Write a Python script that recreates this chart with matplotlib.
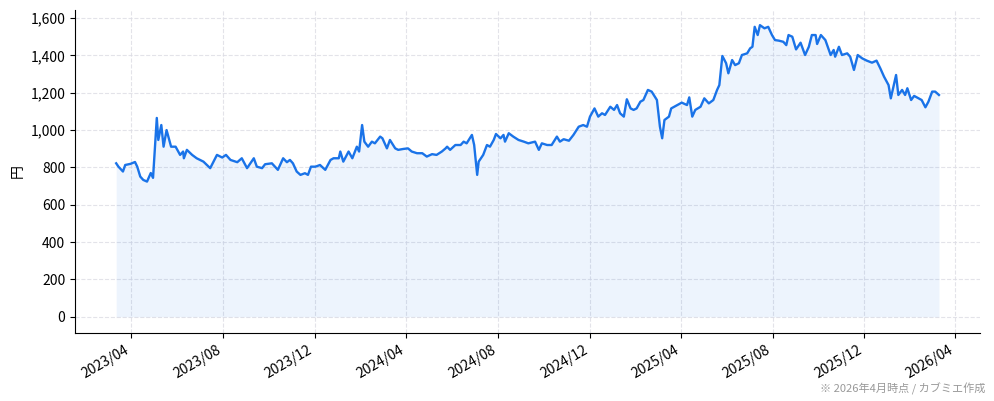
import matplotlib
matplotlib.use("Agg")
import matplotlib.pyplot as plt
import matplotlib.dates as mdates
from matplotlib.ticker import FuncFormatter, MultipleLocator
import pandas as pd

plt.rcParams['font.family'] = ['Noto Sans CJK JP', 'DejaVu Sans']

dates = [
    "2023-03-12", "2023-03-15", "2023-03-21", "2023-03-24", "2023-03-31", "2023-04-06",
    "2023-04-09", "2023-04-13", "2023-04-17", "2023-04-22", "2023-04-27", "2023-04-30",
    "2023-05-05", "2023-05-07", "2023-05-11", "2023-05-14", "2023-05-18", "2023-05-24",
    "2023-05-30", "2023-06-05", "2023-06-09", "2023-06-10", "2023-06-14", "2023-06-21",
    "2023-06-27", "2023-07-06", "2023-07-15", "2023-07-24", "2023-07-31", "2023-08-05",
    "2023-08-11", "2023-08-20", "2023-08-26", "2023-09-02", "2023-09-11", "2023-09-15",
    "2023-09-22", "2023-09-26", "2023-10-05", "2023-10-13", "2023-10-20", "2023-10-25",
    "2023-10-29", "2023-11-02", "2023-11-07", "2023-11-12", "2023-11-18", "2023-11-22",
    "2023-11-26", "2023-12-02", "2023-12-08", "2023-12-15", "2023-12-22", "2023-12-26",
    "2024-01-02", "2024-01-04", "2024-01-08", "2024-01-15", "2024-01-20", "2024-01-26",
    "2024-01-29", "2024-02-02", "2024-02-05", "2024-02-10", "2024-02-15", "2024-02-19",
    "2024-02-26", "2024-02-29", "2024-03-06", "2024-03-10", "2024-03-17", "2024-03-21",
    "2024-03-28", "2024-04-03", "2024-04-08", "2024-04-15", "2024-04-22", "2024-04-28",
    "2024-05-05", "2024-05-11", "2024-05-18", "2024-05-23", "2024-05-25", "2024-05-29",
    "2024-06-05", "2024-06-12", "2024-06-16", "2024-06-20", "2024-06-27", "2024-06-30",
    "2024-07-04", "2024-07-06", "2024-07-12", "2024-07-17", "2024-07-21", "2024-07-26",
    "2024-07-29", "2024-08-04", "2024-08-08", "2024-08-10", "2024-08-15", "2024-08-21",
    "2024-08-28", "2024-09-04", "2024-09-10", "2024-09-19", "2024-09-24", "2024-09-28",
    "2024-10-05", "2024-10-11", "2024-10-18", "2024-10-22", "2024-10-27", "2024-11-03",
    "2024-11-09", "2024-11-16", "2024-11-22", "2024-11-27", "2024-12-01", "2024-12-07",
    "2024-12-12", "2024-12-17", "2024-12-21", "2024-12-28", "2025-01-02", "2025-01-06",
    "2025-01-10", "2025-01-15", "2025-01-19", "2025-01-24", "2025-01-28", "2025-02-01",
    "2025-02-06", "2025-02-10", "2025-02-16", "2025-02-21", "2025-02-28", "2025-03-04",
    "2025-03-07", "2025-03-10", "2025-03-16", "2025-03-19", "2025-03-27", "2025-04-02",
    "2025-04-09", "2025-04-12", "2025-04-16", "2025-04-20", "2025-04-27", "2025-05-02",
    "2025-05-08", "2025-05-14", "2025-05-19", "2025-05-22", "2025-05-26", "2025-05-31",
    "2025-06-03", "2025-06-08", "2025-06-12", "2025-06-17", "2025-06-21", "2025-06-28",
    "2025-07-02", "2025-07-05", "2025-07-08", "2025-07-12", "2025-07-15", "2025-07-21",
    "2025-07-26", "2025-07-31", "2025-08-04", "2025-08-09", "2025-08-15", "2025-08-19",
    "2025-08-22", "2025-08-27", "2025-09-01", "2025-09-07", "2025-09-13", "2025-09-18",
    "2025-09-22", "2025-09-27", "2025-09-29", "2025-10-04", "2025-10-10", "2025-10-17",
    "2025-10-21", "2025-10-23", "2025-10-28", "2025-11-01", "2025-11-08", "2025-11-12",
    "2025-11-17", "2025-11-22", "2025-11-28", "2025-12-04", "2025-12-11", "2025-12-17",
    "2025-12-22", "2025-12-27", "2026-01-02", "2026-01-05", "2026-01-09", "2026-01-12",
    "2026-01-15", "2026-01-20", "2026-01-24", "2026-01-27", "2026-02-01", "2026-02-05",
    "2026-02-11", "2026-02-15", "2026-02-20", "2026-02-24", "2026-03-01", "2026-03-05",
    "2026-03-10",
]

prices = [
    822, 804, 778, 813, 819, 829,
    804, 751, 733, 724, 770, 744,
    1065, 947, 1027, 911, 1000, 911,
    911, 867, 885, 849, 894, 867,
    849, 831, 796, 867, 853, 867,
    840, 828, 849, 796, 849, 804,
    796, 817, 822, 787, 849, 828,
    840, 822, 778, 760, 769, 760,
    804, 804, 813, 787, 840, 849,
    849, 885, 831, 885, 849, 911,
    885, 1027, 938, 911, 938, 929,
    965, 956, 902, 947, 902, 894,
    899, 902, 885, 876, 876, 858,
    871, 867, 885, 902, 911, 894,
    920, 920, 938, 929, 974, 920,
    760, 831, 867, 920, 911, 947,
    979, 956, 974, 938, 983, 965,
    947, 938, 929, 938, 894, 929,
    920, 920, 965, 938, 951, 943,
    974, 1018, 1027, 1018, 1072, 1116,
    1072, 1090, 1081, 1125, 1108, 1134,
    1090, 1072, 1165, 1116, 1108, 1116,
    1152, 1161, 1215, 1206, 1161, 1018,
    956, 1054, 1072, 1116, 1134, 1147,
    1134, 1175, 1072, 1108, 1125, 1170,
    1143, 1161, 1215, 1241, 1397, 1358,
    1304, 1375, 1348, 1358, 1402, 1411,
    1438, 1446, 1553, 1509, 1562, 1545,
    1553, 1509, 1482, 1479, 1473, 1455,
    1509, 1500, 1432, 1468, 1402, 1446,
    1509, 1509, 1461, 1509, 1482, 1402,
    1429, 1393, 1446, 1402, 1411, 1393,
    1322, 1402, 1384, 1372, 1361, 1372,
    1331, 1286, 1241, 1170, 1241, 1295,
    1188, 1215, 1188, 1224, 1161, 1183,
    1170, 1161, 1122, 1152, 1206, 1206,
    1188,
]

dt = pd.to_datetime(dates)

fig, ax = plt.subplots(figsize=(9.94, 4.01), dpi=100)
fig.subplots_adjust(left=0.0755, right=0.986, top=0.975, bottom=0.170)

line_color = "#1a73e8"
ax.fill_between(dt, prices, 0, color=line_color, alpha=0.08, linewidth=0)
ax.plot(dt, prices, color=line_color, linewidth=1.7)

ax.set_ylim(-86, 1643)
ax.yaxis.set_major_locator(MultipleLocator(200))
ax.yaxis.set_major_formatter(FuncFormatter(lambda v, p: f"{int(v):,}"))
ax.set_ylabel("円", fontsize=10)

ax.xaxis.set_major_locator(mdates.MonthLocator(bymonth=[4, 8, 12]))
ax.xaxis.set_major_formatter(mdates.DateFormatter("%Y/%m"))
plt.setp(ax.get_xticklabels(), rotation=30, ha="right")
ax.tick_params(labelsize=10)

ax.grid(True, linestyle="--", color="#dcdce4", linewidth=0.8, alpha=0.8)
ax.set_axisbelow(True)
ax.spines["top"].set_visible(False)
ax.spines["right"].set_visible(False)

fig.text(0.991, 0.015, "※ 2026年4月時点 / カブミエ作成", ha="right", va="bottom",
         fontsize=8, color="#999999")

plt.savefig("out.png", dpi=100)
